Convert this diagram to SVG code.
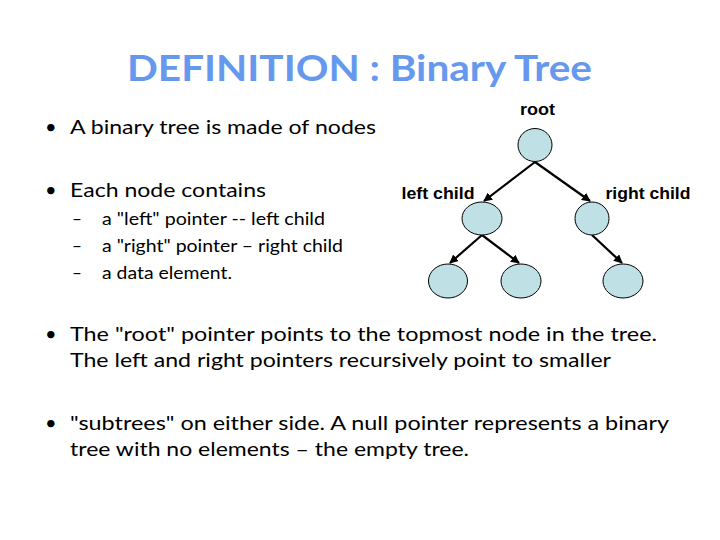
<svg xmlns="http://www.w3.org/2000/svg" width="720" height="540" viewBox="0 0 720 540">
<style>
.title{font-family:Lato,"Open Sans",sans-serif;font-weight:bold;font-size:37px;fill:#6699ee}
.b{font-family:Lato,"Open Sans",sans-serif;font-size:20px;fill:#000}
.s{font-family:Lato,"Open Sans",sans-serif;font-size:17px;fill:#000}
.lbl{font-family:"Liberation Sans",Arial,sans-serif;font-weight:bold;font-size:17px;fill:#000}
.node{fill:#bfe0e4;stroke:#000;stroke-width:1}
.edge{stroke:#000;stroke-width:2.2;fill:none;marker-end:url(#ah)}
</style>
<defs>
<marker id="ah" viewBox="0 0 10 10" refX="9" refY="5" markerWidth="4" markerHeight="4" orient="auto">
<path d="M0,0 L10,5 L0,10 z" fill="#000"/>
</marker>
</defs>
<rect width="720" height="540" fill="#fff"/>
<text class="title" x="127" y="81" textLength="465" lengthAdjust="spacingAndGlyphs">DEFINITION : Binary Tree</text>

<text class="b" x="45" y="134">•</text>
<text class="b" x="70" y="134" textLength="306" lengthAdjust="spacingAndGlyphs">A binary tree is made of nodes</text>
<text class="b" x="45" y="197">•</text>
<text class="b" x="70" y="197" textLength="196" lengthAdjust="spacingAndGlyphs">Each node contains</text>
<text class="s" x="72" y="225">–</text>
<text class="s" x="102" y="225" textLength="223" lengthAdjust="spacingAndGlyphs">a "left" pointer -- left child</text>
<text class="s" x="72" y="252">–</text>
<text class="s" x="102" y="252" textLength="241" lengthAdjust="spacingAndGlyphs">a "right" pointer – right child</text>
<text class="s" x="72" y="279">–</text>
<text class="s" x="102" y="279" textLength="130" lengthAdjust="spacingAndGlyphs">a data element.</text>

<text class="b" x="45" y="341">•</text>
<text class="b" x="70" y="341" textLength="587" lengthAdjust="spacingAndGlyphs">The "root" pointer points to the topmost node in the tree.</text>
<text class="b" x="70" y="367" textLength="541" lengthAdjust="spacingAndGlyphs">The left and right pointers recursively point to smaller</text>
<text class="b" x="45" y="430">•</text>
<text class="b" x="70" y="430" textLength="599" lengthAdjust="spacingAndGlyphs">"subtrees" on either side. A null pointer represents a binary</text>
<text class="b" x="70" y="456" textLength="399" lengthAdjust="spacingAndGlyphs">tree with no elements – the empty tree.</text>

<g id="connectors">
<line class="edge" x1="535" y1="162" x2="484" y2="201"/>
<line class="edge" x1="535" y1="162" x2="590" y2="201"/>
<line class="edge" x1="482" y1="235" x2="450" y2="263"/>
<line class="edge" x1="482" y1="235" x2="519" y2="263"/>
<line class="edge" x1="592" y1="235" x2="622" y2="263"/>
</g>
<g id="root"><ellipse class="node" cx="535" cy="145" rx="17" ry="16.5"/><text class="lbl" x="520" y="115" textLength="35" lengthAdjust="spacingAndGlyphs">root</text></g>
<g id="left-child"><ellipse class="node" cx="482" cy="218.5" rx="20" ry="16.5"/><text class="lbl" x="401.5" y="199" textLength="73" lengthAdjust="spacingAndGlyphs">left child</text></g>
<g id="right-child"><ellipse class="node" cx="592" cy="218.5" rx="17" ry="16.5"/><text class="lbl" x="605.5" y="199" textLength="85" lengthAdjust="spacingAndGlyphs">right child</text></g>
<g id="ll"><ellipse class="node" cx="448" cy="281" rx="19.5" ry="17"/></g>
<g id="lr"><ellipse class="node" cx="521" cy="281" rx="20" ry="17"/></g>
<g id="rr"><ellipse class="node" cx="623" cy="281" rx="20" ry="17"/></g>
</svg>
